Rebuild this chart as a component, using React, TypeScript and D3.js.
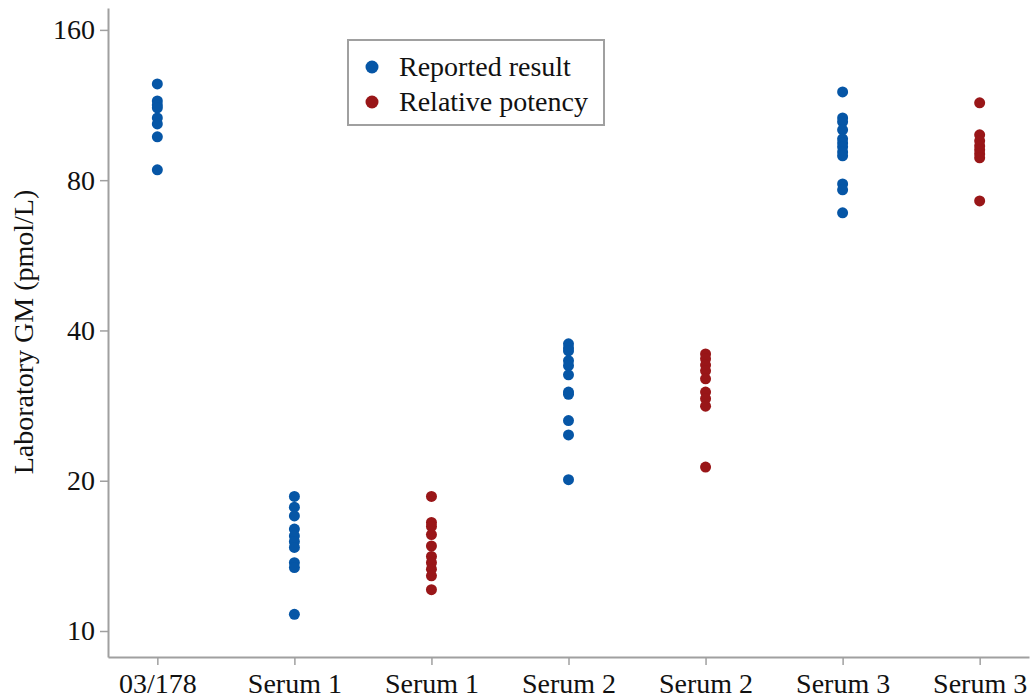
import * as d3 from "d3";
import { useEffect, useRef } from "react";

const categories = ["03/178", "Serum 1", "Serum 1", "Serum 2", "Serum 2", "Serum 3", "Serum 3"];
const yTicks = [10, 20, 40, 80, 160];

// which series each column belongs to
const columnSeries = ["reported", "reported", "potency", "reported", "potency", "reported", "potency"];

const std03178 = [124.7, 115.3, 113.2, 111.7, 106.6, 103.7, 97.7, 83.9];
const serum1Reported = [18.6, 17.7, 17.0, 16.0, 15.5, 15.1, 14.7, 13.7, 13.4, 10.8];
const serum1Potency = [18.6, 16.5, 16.2, 15.6, 14.8, 14.1, 13.7, 13.3, 12.9, 12.1];
const serum2Reported = [37.6, 36.9, 36.4, 34.8, 34.0, 32.6, 30.1, 29.8, 26.4, 24.7, 20.1];
const serum2Potency = [35.9, 35.1, 34.1, 33.2, 32.0, 30.1, 29.2, 28.2, 21.3];
const serum3Reported = [120.2, 106.6, 104.7, 100.9, 96.8, 95.0, 93.3, 91.1, 89.5, 78.6, 76.5, 68.8];
const serum3Potency = [114.3, 98.6, 95.9, 93.7, 92.0, 90.3, 88.7, 72.7];

const columns = [std03178, serum1Reported, serum1Potency, serum2Reported, serum2Potency, serum3Reported, serum3Potency];

const legendItems = [
  { key: "reported", label: "Reported result" },
  { key: "potency", label: "Relative potency" },
];

const colors = { reported: "#0656a6", potency: "#991618" };

const width = 1031;
const height = 700;
const marginLeft = 108;
const axisBottom = 657;
const font = "Liberation Serif, Times New Roman, Times, serif";

const App = () => {
  const yRef = useRef(null);
  const xRef = useRef(null);

  const xScale = d3
    .scalePoint()
    .domain(categories.map((_, i) => String(i)))
    .range([marginLeft, width - 2])
    .padding(0.36);

  const yScale = d3.scaleLog().base(2).domain([8.87, 177]).range([axisBottom, 8]);

  useEffect(() => {
    const yAxis = d3
      .axisLeft(yScale)
      .tickValues(yTicks)
      .tickFormat((d) => String(d))
      .tickSize(8)
      .tickPadding(5)
      .tickSizeOuter(0);
    const gy = d3.select(yRef.current);
    gy.call(yAxis);
    gy.attr("font-family", null).attr("font-size", null);
    gy.select(".domain").attr("stroke", "#a0a0a0").attr("stroke-width", 2);
    gy.selectAll(".tick line").attr("stroke", "#a0a0a0").attr("stroke-width", 1.5);
    gy.selectAll(".tick text").attr("fill", "#111");

    const xAxis = d3
      .axisBottom(xScale)
      .tickFormat((d) => categories[+d])
      .tickSize(8)
      .tickPadding(8)
      .tickSizeOuter(0);
    const gx = d3.select(xRef.current);
    gx.call(xAxis);
    gx.attr("font-family", null).attr("font-size", null);
    gx.select(".domain").attr("stroke", "#a0a0a0").attr("stroke-width", 2);
    gx.selectAll(".tick line").attr("stroke", "#a0a0a0").attr("stroke-width", 1.5);
    gx.selectAll(".tick text").attr("fill", "#111");
  }, []);

  return (
    <>
      <style>{`body{margin:0}`}</style>
      <svg
        width={width}
        height={height}
        style={{ display: "block", background: "#fff", fontFamily: font, fontSize: 28 }}
      >
        <g ref={yRef} transform={`translate(${marginLeft},0)`} />
        <g ref={xRef} transform={`translate(0,${axisBottom})`} />
        <text transform={`translate(33,332) rotate(-90)`} textAnchor="middle" fill="#111">
          Laboratory GM (pmol/L)
        </text>
        {columns.map((vals, i) => (
          <g key={i} fill={colors[columnSeries[i]]}>
            {vals.map((v, j) => (
              <circle key={j} cx={xScale(String(i))} cy={yScale(v)} r={5.5} />
            ))}
          </g>
        ))}
        <g transform="translate(348,40)">
          <rect width={256} height={85} fill="#fff" stroke="#a0a0a0" strokeWidth={2} />
          {legendItems.map((it, i) => (
            <g key={it.key} transform={`translate(0,${27 + i * 35})`}>
              <circle cx={24} cy={0} r={6.5} fill={colors[it.key]} />
              <text x={51} y={9} fill="#111">
                {it.label}
              </text>
            </g>
          ))}
        </g>
      </svg>
    </>
  );
};

export default App;
